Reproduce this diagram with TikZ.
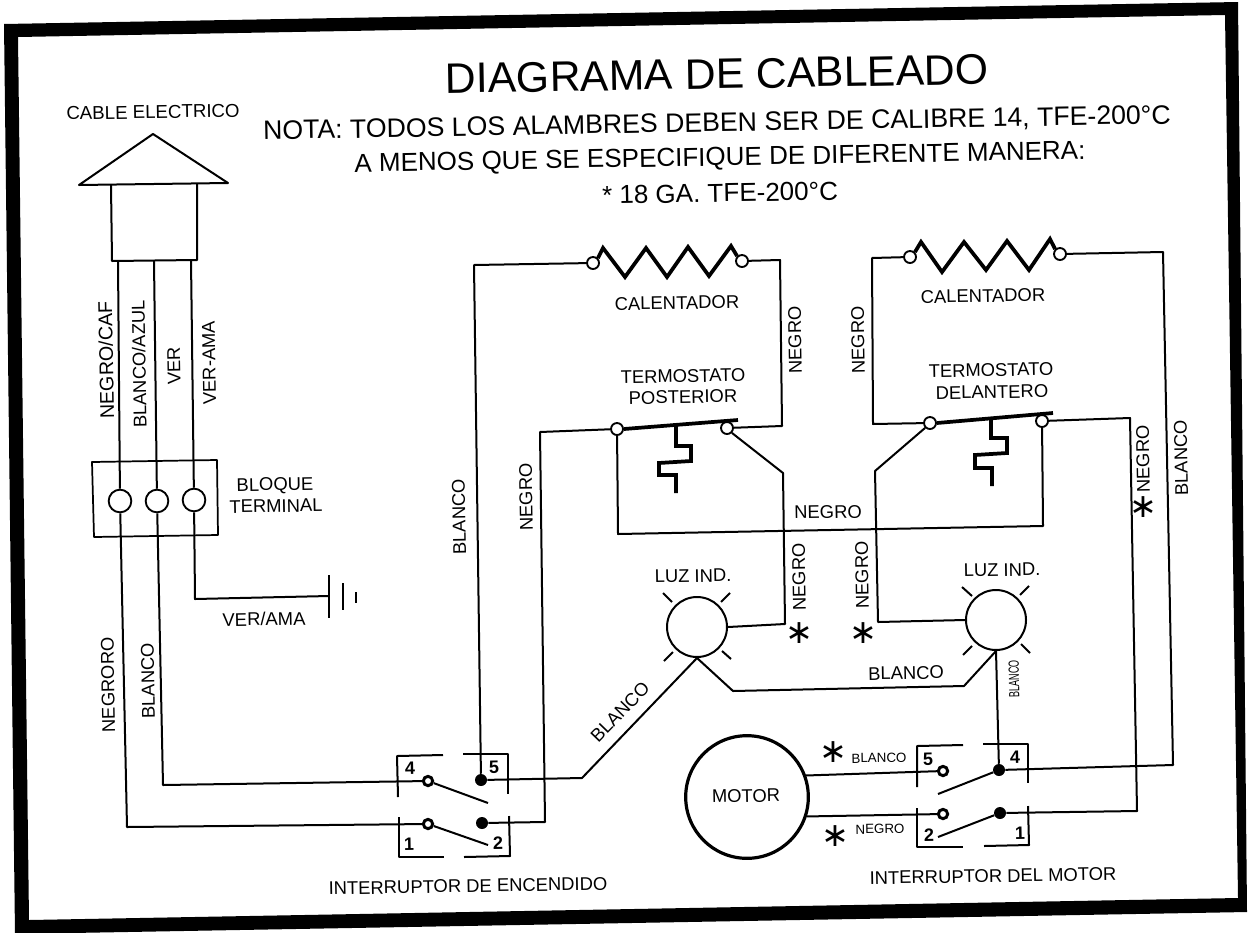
\documentclass[tikz,border=0pt]{standalone}
\usepackage{fontspec}
\setmainfont{Liberation Sans}
\newfontfamily\symfont{DejaVu Sans}
\tikzset{
  wire/.style={line width=1.5pt,line join=round},
  heavy/.style={line width=2.8pt,line join=miter},
  term/.style={circle,draw,fill=white,line width=1.4pt,inner sep=0pt,minimum size=9pt},
  blockterm/.style={circle,draw,fill=white,line width=1.4pt,inner sep=0pt,minimum size=17pt},
  lamp/.style={circle,draw,fill=white,line width=1.5pt,inner sep=0pt,minimum size=45pt},
  opendot/.style={circle,draw,fill=white,line width=2.2pt,inner sep=0pt,minimum size=7pt},
  fulldot/.style={circle,fill=black,inner sep=0pt,minimum size=9pt},
  lab/.style={inner sep=0.75pt,rotate=1,font=\fontsize{13.8}{15}\selectfont},
  vlab/.style={inner sep=0.75pt,rotate=91,font=\fontsize{13.8}{15}\selectfont},
  small/.style={inner sep=0.75pt,rotate=1,font=\fontsize{10}{12}\selectfont},
  num/.style={inner sep=0.75pt,rotate=1,font=\bfseries\fontsize{13.5}{15}\selectfont},
  note/.style={inner sep=0.75pt,rotate=1,font=\fontsize{20}{24}\selectfont},
  aster/.style={inner sep=0pt,font=\symfont\fontsize{25}{25}\selectfont}
}
\begin{document}
\begin{tikzpicture}[x=0.75pt,y=0.75pt,yscale=-1,xscale=1]
\useasboundingbox (0,0) rectangle (1248,932);

%Frame
\fill[even odd rule] (4,24) -- (1238,2) -- (1247,912) -- (15,934) -- cycle (18,37) -- (1225,15) -- (1238,898) -- (29,920) -- cycle;

%Cable head
\draw[wire] (79,185) -- (153,134) -- (228,183) -- cycle;
\draw[wire] (111,185) -- (112,261) -- (197,260) -- (197,184);

%Terminal block
\draw[wire,line width=1.3pt] (92,462) -- (217,460) -- (218,535) -- (94,537) -- cycle;
\node[blockterm] (blockA) at (120,501) {};
\node[blockterm] (blockB) at (157,501) {};
\node[blockterm] (blockC) at (194,500) {};
\coordinate (cableA) at (118,261);
\coordinate (cableB) at (154,261);
\coordinate (cableC) at (191,260);
\draw[wire] (cableA) -- (blockA);
\draw[wire] (cableB) -- (blockB);
\draw[wire] (cableC) -- (blockC);

%Ground
\coordinate (gndA) at (329,596);
\coordinate (gndB) at (195,599);
\draw[wire] (blockC) -- (gndB) -- (gndA);
\draw[wire] (329,575) -- (329,618);
\draw[wire] (343,583) -- (343,610);
\draw[wire] (356,592) -- (356,603);

%Heaters
\node[term] (heatAl) at (593,263) {};
\node[term] (heatAr) at (742,261) {};
\node[term] (heatBl) at (910,257) {};
\node[term] (heatBr) at (1060,254) {};
\draw[heavy] (heatAl.north east) -- (603,248) -- (625,277) -- (646,248) -- (667,277) -- (688,247) -- (709,276) -- (731,246) -- (heatAr.north west);
\draw[heavy] (heatBl.north east) -- (921,242) -- (942,272) -- (964,242) -- (986,270) -- (1007,241) -- (1029,270) -- (1050,239) -- (heatBr.north west);

%Thermostats
\node[term] (thermAl) at (617,429) {};
\node[term] (thermAr) at (727,428) {};
\node[term] (thermBl) at (930,423) {};
\node[term] (thermBr) at (1042,421) {};
\draw[heavy] (thermAl.east) -- (738,420);
\draw[heavy] (thermBl.east) -- (1053,413);
\draw[heavy] (676,426) -- (676,446) -- (691,446) -- (691,461) -- (659,463) -- (659,475) -- (676,475) -- (676,493);
\draw[heavy] (991,418) -- (991,438) -- (1007,438) -- (1007,453) -- (975,455) -- (975,468) -- (992,468) -- (992,486);

%Lamps and motor
\node[lamp] (luzA) at (697,627) {};
\node[lamp] (luzB) at (996,620) {};
\node[circle,draw,line width=2.4pt,inner sep=0pt,minimum size=92pt] (motor) at (747,797) {};
\draw[wire] (663,593) -- (672,602) (730,593) -- (721,602) (664,661) -- (673,652) (731,659) -- (722,651);
\draw[wire] (962,587) -- (972,596) (1029,586) -- (1020,595) (963,655) -- (972,646) (1030,653) -- (1021,644);

%Ignition switch
\draw[wire] (443,755) -- (397,756) -- (398,797);
\draw[wire] (463,754) -- (508,754) -- (508,794);
\draw[wire] (399,817) -- (399,857) -- (444,857);
\draw[wire] (509,816) -- (510,856) -- (464,857);
\node[opendot] (swAfour) at (428,781) {};
\node[fulldot] (swAfive) at (481,780) {};
\node[opendot] (swAone) at (428,824) {};
\node[fulldot] (swAtwo) at (482,823) {};
\coordinate (bladeA) at (488,803);
\coordinate (bladeB) at (488,845);
\draw[wire] (swAfour) -- (bladeA);
\draw[wire] (swAone) -- (bladeB);

%Motor switch
\draw[wire] (963,745) -- (917,746) -- (917,787);
\draw[wire] (983,744) -- (1028,744) -- (1028,783);
\draw[wire] (917,808) -- (917,847) -- (963,847);
\draw[wire] (1028,806) -- (1029,845) -- (984,846);
\node[opendot] (swBfive) at (943,771) {};
\node[fulldot] (swBfour) at (999,770) {};
\node[opendot] (swBtwo) at (943,814) {};
\node[fulldot] (swBone) at (1000,813) {};
\coordinate (bladeC) at (938,794);
\coordinate (bladeD) at (938,837);
\draw[wire] (swBfour) -- (bladeC);
\draw[wire] (swBone) -- (bladeD);

%Wires
\draw[wire] (blockA) -- (127,827) -- (swAone);
\draw[wire] (blockB) -- (163,785) -- (swAfour);
\draw[wire] (swAfive) -- (474,265) -- (heatAl);
\draw[wire] (swAfive) -- (582,778) -- (luzA.south);
\draw[wire] (swAtwo) -- (545,822) -- (540,432) -- (thermAl);
\draw[wire] (thermAl) -- (618,534) -- (1043,526) -- (thermBr);
\draw[wire] (thermAr) -- (782,426) -- (780,260) -- (heatAr);
\draw[wire] (thermAr.south east) -- (783,473) -- (785,624) -- (luzA.east);
\draw[wire] (thermBl) -- (873,424) -- (872,258) -- (heatBl);
\draw[wire] (thermBl.south west) -- (875,471) -- (878,622) -- (luzB.west);
\draw[wire] (heatBr) -- (1163,252) -- (1173,765) -- (swBfour);
\draw[wire] (thermBr) -- (1130,418) -- (1137,811) -- (swBone);
\draw[wire] (luzA.south) -- (733,691) -- (964,686) -- (luzB.south);
\draw[wire] (luzB.south) -- (swBfour);
\draw[wire] (motor.20) -- (swBfive);
\draw[wire] (motor.-18) -- (swBtwo);

% Text Node
\node[inner sep=0.75pt,rotate=1,font=\fontsize{32}{36}\selectfont] (title) at (717,74) {DIAGRAMA DE CABLEADO};
\node[note] (noteA) at (717,124) {NOTA: TODOS LOS ALAMBRES DEBEN SER DE CALIBRE 14, TFE-200°C};
\node[note,font=\fontsize{19.5}{24}\selectfont] (noteB) at (720,159) {A MENOS QUE SE ESPECIFIQUE DE DIFERENTE MANERA:};
\node[note,font=\fontsize{19.5}{24}\selectfont] (noteC) at (720,193) {* 18 GA. TFE-200°C};
\node[lab,font=\fontsize{14}{15}\selectfont] (cableName) at (153,112) {CABLE ELECTRICO};
\node[vlab,font=\fontsize{14.8}{15}\selectfont] (labA) at (106,360) {NEGRO/CAF};
\node[vlab] (labB) at (139,364) {BLANCO/AZUL};
\node[vlab] (labC) at (174,366) {VER};
\node[vlab] (labD) at (209,363) {VER-AMA};
\node[lab] (blockName) at (275,486) {BLOQUE};
\node[lab] (blockNameB) at (276,506) {TERMINAL};
\node[lab] (gndName) at (264,619) {VER/AMA};
\node[vlab] (labE) at (108,685) {NEGRORO};
\node[vlab] (labF) at (148,681) {BLANCO};
\node[vlab] (labG) at (459,517) {BLANCO};
\node[vlab] (labH) at (526,497) {NEGRO};
\node[inner sep=0.75pt,rotate=46,font=\fontsize{13.8}{15}\selectfont] (labI) at (620,712) {BLANCO};
\node[lab] (heatNameA) at (677,303) {CALENTADOR};
\node[lab] (heatNameB) at (983,296) {CALENTADOR};
\node[lab] (thermNameA) at (683,376) {TERMOSTATO};
\node[lab] (thermNameAb) at (683,397) {POSTERIOR};
\node[lab] (thermNameB) at (991,370) {TERMOSTATO};
\node[lab] (thermNameBb) at (992,392) {DELANTERO};
\node[vlab] (labJ) at (795,340) {NEGRO};
\node[vlab] (labK) at (858,340) {NEGRO};
\node[lab] (labL) at (828,512) {NEGRO};
\node[vlab] (labM) at (799,577) {NEGRO};
\node[vlab] (labN) at (862,575) {NEGRO};
\node[aster] (starA) at (799,633) {∗};
\node[aster] (starB) at (863,633) {∗};
\node[vlab] (labO) at (1143,459) {NEGRO};
\node[aster] (starC) at (1143,507) {∗};
\node[vlab] (labP) at (1181,458) {BLANCO};
\node[lab] (luzNameA) at (693,576) {LUZ IND.};
\node[lab] (luzNameB) at (1002,570) {LUZ IND.};
\node[lab] (labQ) at (906,673) {BLANCO};
\node[inner sep=0.75pt,rotate=91,font=\fontsize{11}{12}\selectfont] (labR) at (1014,679) {\scalebox{0.62}[1]{BLANCO}};
\node[lab] (motorName) at (746,796) {MOTOR};
\node[aster] (starD) at (833,752) {∗};
\node[small] (labS) at (879,758) {BLANCO};
\node[aster] (starE) at (835,836) {∗};
\node[small] (labT) at (880,829) {NEGRO};
\node[num] (numA) at (410,768) {4};
\node[num] (numB) at (494,767) {5};
\node[num] (numC) at (409,844) {1};
\node[num] (numD) at (498,843) {2};
\node[num] (numE) at (928,759) {5};
\node[num] (numF) at (1015,757) {4};
\node[num] (numG) at (929,835) {2};
\node[num] (numH) at (1020,833) {1};
\node[lab] (swNameA) at (468,886) {INTERRUPTOR DE ENCENDIDO};
\node[lab] (swNameB) at (993,876) {INTERRUPTOR DEL MOTOR};

\end{tikzpicture}
\end{document}
